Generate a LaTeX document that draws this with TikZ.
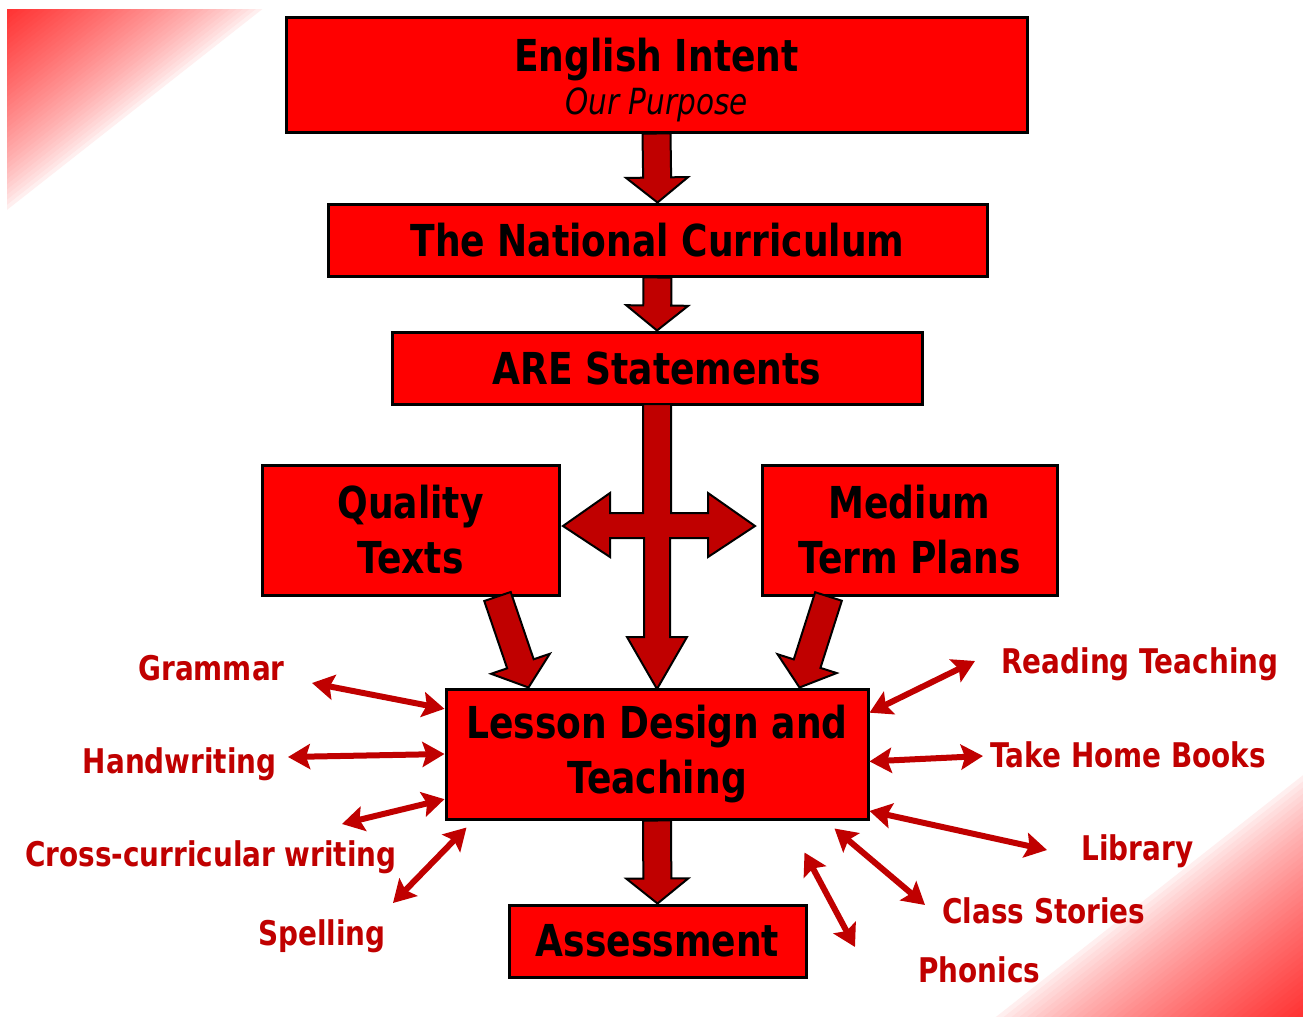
\documentclass[tikz,border=0pt]{standalone}
\usepackage{fontspec}
\setmainfont{DejaVu Sans}[FakeStretch=0.82]
\usetikzlibrary{arrows.meta,calc}

\definecolor{boxred}{HTML}{FF0000}
\definecolor{darkred}{HTML}{C00000}
\definecolor{cornerred}{HTML}{FF3030}

\tikzset{
  stage/.style={draw, line width=1.5pt, fill=boxred, inner sep=0pt, align=center,
    font=\bfseries\fontsize{22}{27.5}\selectfont},
  blockarrow/.style={draw, line width=1pt, fill=darkred, line join=miter},
  spoke/.style={darkred, line width=3pt,
    {Stealth[length=11pt,width=12.5pt,inset=2pt]}-{Stealth[length=11pt,width=12.5pt,inset=2pt]}},
  topic/.style={text=darkred, inner sep=0pt, font=\bfseries\fontsize{17}{20}\selectfont}
}

\newcommand{\blkarrow}[2]{%
  \draw[blockarrow] let \p1=(#1), \p2=(#2),
      \n1={atan2(\y2-\y1,\x2-\x1)}, \n2={veclen(\x2-\x1,\y2-\y1)-12.5}
    in ($(\p1)+(\n1+90:7pt)$) -- ($(\p1)+(\n1:\n2)+(\n1+90:7pt)$)
    -- ($(\p1)+(\n1:\n2)+(\n1+90:15.5pt)$) -- (\p2)
    -- ($(\p1)+(\n1:\n2)+(\n1-90:15.5pt)$) -- ($(\p1)+(\n1:\n2)+(\n1-90:7pt)$)
    -- ($(\p1)+(\n1-90:7pt)$) -- cycle;}

\begin{document}
\begin{tikzpicture}[x=0.5pt, y=-0.5pt]

    \fill[white] (0,0) rectangle (1303,1017);

    \foreach \i [evaluate=\i as \amt using {100*(1-\i/40)^0.7}] in {40,...,1} {
      \fill[cornerred!\amt!white] (7,9) -- ({7+262*\i/40},9) -- (7,{9+206*\i/40}) -- cycle;
      \fill[cornerred!\amt!white] (1303,1017) -- ({1303-315*\i/40},1017) -- (1303,{1017-248*\i/40}) -- cycle;
    }

    \node[stage, minimum width=370.5pt, minimum height=57.5pt] (english_intent) at (656.5,74.5)
      {\rule{0pt}{22pt}English Intent\\[-6pt]{\mdseries\itshape\fontsize{18}{20}\selectfont Our Purpose}};
    \node[stage, minimum width=329.5pt, minimum height=36pt] (national_curriculum) at (657.5,240) {The National Curriculum};
    \node[stage, minimum width=265pt, minimum height=36pt] (are_statements) at (657,368) {ARE Statements};
    \node[stage, minimum width=148.5pt, minimum height=65pt] (quality_texts) at (410.5,530) {Quality\\Texts};
    \node[stage, minimum width=147.5pt, minimum height=65pt] (medium_plans) at (909.5,530) {Medium\\Term Plans};
    \node[stage, minimum width=211pt, minimum height=65pt] (lesson_design) at (657,754) {Lesson Design and\\Teaching};
    \node[stage, minimum width=148.5pt, minimum height=36pt] (assessment) at (657.5,941) {Assessment};

    \blkarrow{english_intent.south}{national_curriculum.north}
    \blkarrow{national_curriculum.south}{are_statements.north}
    \blkarrow{lesson_design.south}{assessment.north}
    \blkarrow{$(quality_texts.south east)+(-63,0)$}{$(lesson_design.north west)+(84,0)$}
    \blkarrow{$(medium_plans.south west)+(68,0)$}{$(lesson_design.north east)+(-70,0)$}

    \coordinate (hub) at ($(are_statements.south |- quality_texts.east)+(0,-4)$);
    \begin{scope}[shift={(hub)}]
      \draw[blockarrow] (-14,-122) -- (-14,-13) -- (-47,-13) -- (-47,-33) -- (-94,0)
        -- (-47,31) -- (-47,12) -- (-13,12) -- (-13,111) -- (-30,111) -- (0,163)
        -- (30,111) -- (13,111) -- (13,12) -- (51,12) -- (51,31) -- (98,0)
        -- (51,-33) -- (51,-13) -- (14,-13) -- (14,-122) -- cycle;
    \end{scope}

    \node[topic, anchor=base east] (grammar) at (285,680) {Grammar};
    \node[topic, anchor=base east] (handwriting) at (277,773) {Handwriting};
    \node[topic, anchor=base east] (cross_curricular) at (397,866) {Cross-curricular writing};
    \node[topic, anchor=base east] (spelling) at (386,945) {Spelling};
    \node[topic, anchor=base west] (reading) at (1001,673) {Reading Teaching};
    \node[topic, anchor=base west] (take_home) at (990,767) {Take Home Books};
    \node[topic, anchor=base west] (library) at (1081,860) {Library};
    \node[topic, anchor=base west] (class_stories) at (942,923) {Class Stories};
    \node[topic, anchor=base west] (phonics) at (918,982) {Phonics};

    \coordinate (grammar_end) at (312,683);
    \coordinate (handwriting_end) at (288,757);
    \coordinate (cross_end) at (342,824);
    \coordinate (spelling_end) at (393,903);
    \coordinate (reading_end) at (975,661);
    \coordinate (take_home_end) at (983,756);
    \coordinate (library_end) at (1047,850);
    \coordinate (stories_end) at (925,905);
    \coordinate (phonics_end) at (855,947);

    \draw[spoke] (grammar_end) -- (lesson_design.168);
    \draw[spoke] (handwriting_end) -- (lesson_design.180);
    \draw[spoke] (cross_end) -- (lesson_design.192);
    \draw[spoke] (spelling_end) -- ($(lesson_design.south west)+(22,7)$);
    \draw[spoke] (lesson_design.11) -- (reading_end);
    \draw[spoke] (lesson_design.-2) -- (take_home_end);
    \draw[spoke] (lesson_design.-15.5) -- (library_end);
    \draw[spoke] ($(lesson_design.south east)+(-35,8)$) -- (stories_end);
    \draw[spoke] ($(lesson_design.south east)+(-65,32)$) -- (phonics_end);

\end{tikzpicture}
\end{document}
